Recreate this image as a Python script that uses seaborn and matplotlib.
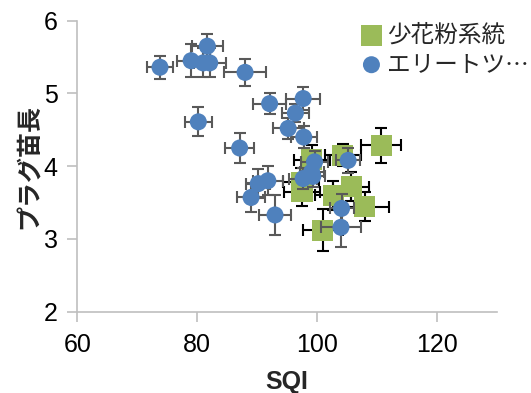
import matplotlib
matplotlib.use("Agg")
import matplotlib.pyplot as plt
import seaborn as sns
import pandas as pd

# ---- data ----
green_name = "少花粉系統"
blue_name = "エリートツ…"

green_x = [110.7, 99.1, 104.3, 97.4, 97.5, 102.7, 105.7, 108.0, 101.0]
green_y = [4.29, 4.09, 4.15, 3.78, 3.65, 3.60, 3.72, 3.44, 3.12]
green_xerr = [3.4, 3.0, 3.0, 3.0, 3.0, 3.0, 3.0, 4.0, 3.4]
green_yerr = [0.24, 0.20, 0.15, 0.20, 0.20, 0.20, 0.20, 0.20, 0.29]

blue_x = [73.8, 79.0, 81.7, 81.0, 82.1, 88.0, 80.2, 87.1, 92.1, 97.7, 96.4, 95.2,
          97.8, 99.6, 105.2, 99.1, 97.7, 99.3, 90.2, 91.8, 89.0, 93.0, 104.1, 104.0]
blue_y = [5.36, 5.45, 5.65, 5.42, 5.42, 5.29, 4.61, 4.25, 4.86, 4.93, 4.73, 4.52,
          4.40, 4.06, 4.08, 3.92, 3.83, 3.86, 3.76, 3.80, 3.57, 3.33, 3.42, 3.16]
blue_xerr = [2.1, 2.4, 2.6, 2.0, 2.7, 3.5, 2.3, 2.4, 2.8, 2.8, 2.2, 2.6,
             2.2, 2.2, 2.0, 2.0, 2.3, 2.0, 2.0, 2.5, 2.4, 2.7, 2.0, 3.3]
blue_yerr = [0.16, 0.23, 0.17, 0.20, 0.20, 0.19, 0.20, 0.20, 0.14, 0.16, 0.12, 0.14,
             0.15, 0.15, 0.17, 0.15, 0.15, 0.15, 0.20, 0.20, 0.20, 0.27, 0.20, 0.27]

x_ticks = [60, 80, 100, 120]
y_ticks = [2, 3, 4, 5, 6]
x_label = "SQI"
y_label = "プラグ苗長"

green_color = "#9BBB59"
blue_color = "#4F81BD"

df = pd.DataFrame({
    "SQI": green_x + blue_x,
    "len": green_y + blue_y,
    "group": [green_name] * len(green_x) + [blue_name] * len(blue_x),
})

sns.set_theme(style="white")
plt.rcParams["font.family"] = ["Liberation Sans", "Noto Sans CJK JP", "DejaVu Sans"]

fig = plt.figure(figsize=(5.31, 3.93), dpi=100)
ax = fig.add_axes([77.3 / 531, 1 - 311.7 / 393, (496.7 - 77.3) / 531, (311.7 - 20.7) / 393])

gray = "#BFBFBF"

# green error bars
ax.errorbar(green_x, green_y, xerr=green_xerr, yerr=green_yerr, fmt="none",
            ecolor="black", elinewidth=1.5, capsize=4, capthick=1.5, zorder=2)
sns.scatterplot(data=df[df.group == green_name], x="SQI", y="len", ax=ax,
                marker="s", color=green_color, s=230, edgecolor="none",
                label=green_name, zorder=3)
ax.errorbar(blue_x, blue_y, xerr=blue_xerr, yerr=blue_yerr, fmt="none",
            ecolor="#595959", elinewidth=1.5, capsize=4, capthick=1.5, zorder=4)
sns.scatterplot(data=df[df.group == blue_name], x="SQI", y="len", ax=ax,
                marker="o", color=blue_color, s=150, edgecolor="none",
                label=blue_name, zorder=5)

ax.set_xlim(60, 130)
ax.set_ylim(2, 6)
ax.set_xticks(x_ticks)
ax.set_yticks(y_ticks)
ax.tick_params(axis="both", labelsize=18, colors=gray, labelcolor="black",
               length=7, width=1.2, direction="out", left=True, bottom=True)
ax.tick_params(axis="x", pad=8)
ax.tick_params(axis="y", pad=7)
for s in ["top", "right"]:
    ax.spines[s].set_visible(False)
for s in ["left", "bottom"]:
    ax.spines[s].set_color(gray)
    ax.spines[s].set_linewidth(1.2)

ax.set_xlabel(x_label, fontsize=18, fontweight="bold", labelpad=10)
ax.set_ylabel(y_label, fontsize=18, fontweight="bold",
              family=["Noto Sans CJK JP", "DejaVu Sans"])
ax.yaxis.set_label_coords(-0.085, 0.5)

leg = ax.legend(loc="upper left", bbox_to_anchor=(362 / 531, 1 - 24 / 393),
                bbox_transform=fig.transFigure, frameon=False,
                prop={"family": ["Noto Sans CJK JP", "DejaVu Sans"], "size": 17},
                handlelength=0.8, handletextpad=0.25, labelspacing=0.25, borderpad=0,
                borderaxespad=0)

fig.savefig("out.png", dpi=100)
